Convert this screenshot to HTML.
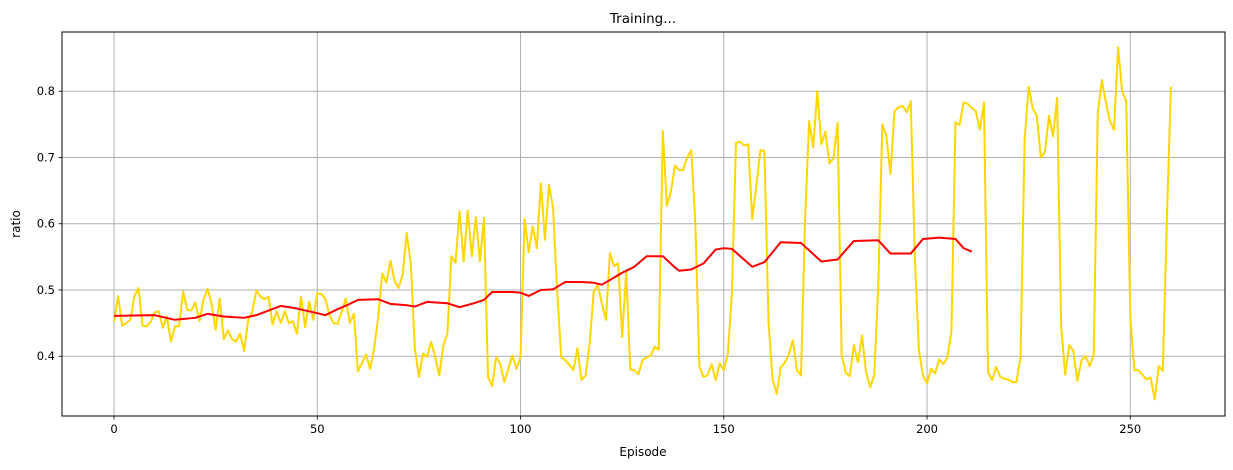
<!DOCTYPE html>
<html><head><meta charset="utf-8"><style>
html,body{margin:0;padding:0;background:#fff;}
svg{display:block;font-family:"DejaVu Sans","Liberation Sans",sans-serif;}
</style></head><body>
<svg id="chart" width="1233" height="470" viewBox="0 0 1233 470" xmlns="http://www.w3.org/2000/svg">
<rect x="0" y="0" width="1233" height="470" fill="#fff"/>
<g id="grid"></g>
<g id="series"></g>
<rect x="62" y="32" width="1163" height="384" fill="none" stroke="#000" stroke-width="1"/>
<g id="ticks"></g>
<text x="643" y="23" text-anchor="middle" font-size="13.5">Training...</text>
<text x="643" y="456" text-anchor="middle" font-size="12">Episode</text>
<text transform="translate(20,224) rotate(-90)" text-anchor="middle" font-size="12">ratio</text>
</svg>
<script>
const ratioValues = [0.452,0.491,0.446,0.45,0.455,0.49,0.503,0.446,0.445,0.452,0.466,0.468,0.443,0.46,0.422,0.445,0.445,0.498,0.47,0.469,0.481,0.453,0.485,0.502,0.479,0.44,0.487,0.426,0.439,0.426,0.422,0.434,0.408,0.455,0.467,0.499,0.49,0.486,0.49,0.448,0.468,0.45,0.468,0.45,0.453,0.434,0.49,0.444,0.482,0.455,0.495,0.494,0.486,0.462,0.45,0.449,0.467,0.487,0.45,0.464,0.377,0.39,0.403,0.381,0.412,0.46,0.525,0.511,0.544,0.514,0.503,0.523,0.586,0.54,0.412,0.369,0.404,0.399,0.422,0.399,0.371,0.416,0.434,0.551,0.541,0.619,0.543,0.62,0.551,0.61,0.543,0.609,0.369,0.355,0.399,0.389,0.361,0.381,0.401,0.381,0.399,0.607,0.557,0.596,0.563,0.661,0.576,0.659,0.624,0.5,0.399,0.394,0.387,0.379,0.412,0.364,0.371,0.419,0.497,0.508,0.48,0.455,0.556,0.536,0.54,0.429,0.528,0.38,0.379,0.373,0.394,0.398,0.401,0.414,0.41,0.74,0.627,0.649,0.688,0.681,0.681,0.7,0.711,0.601,0.384,0.369,0.371,0.388,0.364,0.389,0.379,0.404,0.495,0.722,0.724,0.718,0.72,0.607,0.657,0.711,0.71,0.452,0.366,0.343,0.383,0.39,0.403,0.424,0.379,0.371,0.606,0.755,0.715,0.8,0.72,0.739,0.691,0.699,0.752,0.402,0.375,0.37,0.417,0.391,0.431,0.376,0.353,0.371,0.505,0.75,0.732,0.675,0.77,0.776,0.778,0.768,0.785,0.55,0.409,0.371,0.359,0.381,0.374,0.395,0.388,0.398,0.437,0.753,0.749,0.783,0.781,0.775,0.77,0.742,0.783,0.376,0.364,0.384,0.369,0.366,0.365,0.361,0.361,0.399,0.727,0.807,0.774,0.763,0.7,0.708,0.763,0.732,0.79,0.444,0.372,0.417,0.408,0.363,0.394,0.4,0.385,0.402,0.767,0.817,0.783,0.755,0.742,0.866,0.8,0.785,0.46,0.379,0.379,0.372,0.365,0.368,0.335,0.385,0.378,0.606,0.807];
const avgEpisodes = [0,10,15,20,23,27,32,35,41,45,50,52,55,58,60,65,68,72,74,77,82,85,88,91,93,98,100,102,105,108,111,115,118,120,122,125,128,131,135,138,139,142,145,148,150,152,157,160,164,169,174,178,182,188,191,196,199,203,207,209,211];
const avgValues = [0.461,0.462,0.455,0.458,0.464,0.46,0.458,0.462,0.476,0.472,0.465,0.462,0.471,0.479,0.485,0.486,0.479,0.477,0.475,0.482,0.48,0.474,0.479,0.485,0.497,0.497,0.496,0.491,0.5,0.501,0.512,0.512,0.511,0.508,0.515,0.526,0.535,0.551,0.551,0.534,0.529,0.531,0.54,0.561,0.563,0.562,0.535,0.542,0.572,0.571,0.543,0.546,0.574,0.575,0.555,0.555,0.577,0.579,0.577,0.563,0.558];
const xTicks = [0,50,100,150,200,250];
const yTicks = [0.4,0.5,0.6,0.7,0.8];

const NS='http://www.w3.org/2000/svg';
const X0=62,X1=1225,Y0=32,Y1=416;
const xMin=-12.8,xMax=273.3,yMin=0.3098,yMax=0.8894;
function xs(v){return X0+(v-xMin)/(xMax-xMin)*(X1-X0);}
function ys(v){return Y1-(v-yMin)/(yMax-yMin)*(Y1-Y0);}
function mk(tag,attrs,parent){const e=document.createElementNS(NS,tag);for(const k in attrs)e.setAttribute(k,attrs[k]);parent.appendChild(e);return e;}
const grid=document.getElementById('grid'),ticks=document.getElementById('ticks'),series=document.getElementById('series');
xTicks.forEach(t=>{const x=xs(t);
 const g=mk('line',{x1:x,x2:x,y1:Y0,y2:Y1,stroke:'#b0b0b0','stroke-width':1},grid);
 
 
 mk('line',{x1:x,x2:x,y1:Y1,y2:Y1+3.5,stroke:'#000','stroke-width':0.8},ticks);
 const l=mk('text',{x:x,y:Y1+17,'text-anchor':'middle','font-size':11.5},ticks);l.textContent=t;
 
 
});
yTicks.forEach(t=>{const y=ys(t);
 const g=mk('line',{x1:X0,x2:X1,y1:y,y2:y,stroke:'#b0b0b0','stroke-width':1},grid);
 
 
 mk('line',{x1:X0-3.5,x2:X0,y1:y,y2:y,stroke:'#000','stroke-width':0.8},ticks);
 const l=mk('text',{x:X0-7,y:y+4,'text-anchor':'end','font-size':11.5},ticks);l.textContent=t.toFixed(1);
 
 
});
const p1=mk('polyline',{points:ratioValues.map((v,i)=>xs(i)+','+ys(v)).join(' '),fill:'none',stroke:'#ffd700','stroke-width':2,'stroke-linejoin':'round'},series);


const p2=mk('polyline',{points:avgValues.map((v,i)=>xs(avgEpisodes[i])+','+ys(v)).join(' '),fill:'none',stroke:'#ff0000','stroke-width':2,'stroke-linejoin':'round'},series);


</script>
</body></html>
